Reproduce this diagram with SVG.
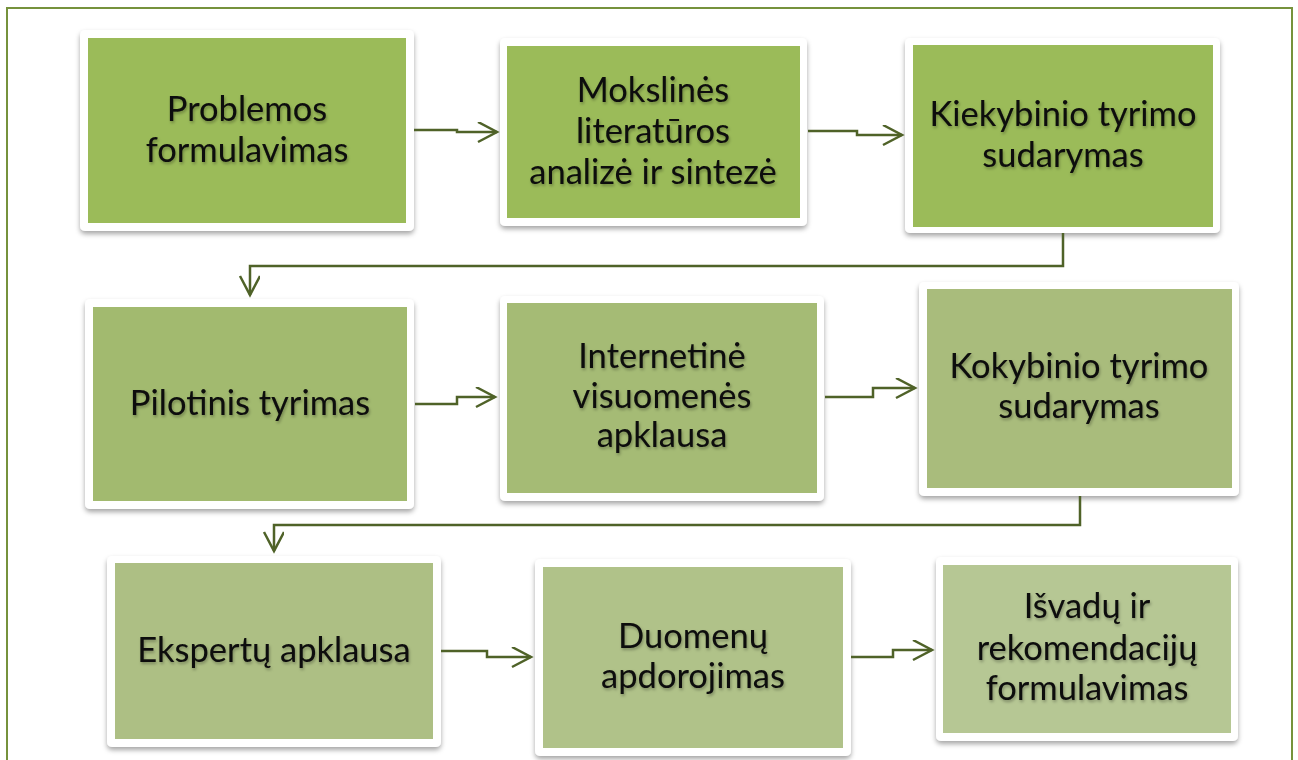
<svg xmlns="http://www.w3.org/2000/svg" width="1298" height="760" viewBox="0 0 1298 760">
<style>
.card{fill:#ffffff;filter:url(#sh)}
.lbl{font-family:Lato,"Liberation Sans",sans-serif;font-size:34.5px;fill:#0a0a0a;text-anchor:middle;filter:url(#tsh)}
.conn{fill:none;stroke:#4F6228;stroke-width:2.5;stroke-linejoin:miter}
</style>
<defs>
<filter id="sh" x="-10%" y="-10%" width="120%" height="125%">
<feDropShadow dx="0" dy="3" stdDeviation="2.5" flood-color="#000" flood-opacity="0.35"/>
</filter>
<filter id="tsh" x="-10%" y="-20%" width="120%" height="150%">
<feDropShadow dx="1" dy="2" stdDeviation="1.5" flood-color="#000" flood-opacity="0.3"/>
</filter>
<marker id="ah" markerWidth="24" markerHeight="24" refX="20" refY="10" orient="auto" markerUnits="userSpaceOnUse">
<path d="M1,0 L20,10 L1,20" fill="none" stroke="#4F6228" stroke-width="2.5"/>
</marker>
</defs>
<rect x="7" y="8" width="1285" height="770" fill="#ffffff" stroke="#76923C" stroke-width="2"/>

<g id="n1">
<rect class="card" x="80" y="30" width="334" height="201" rx="5"/>
<rect x="88" y="38" width="318" height="185" fill="#9BBB59"/>
<text class="lbl" x="247" y="121">Problemos</text>
<text class="lbl" x="247" y="162">formulavimas</text>
</g>
<g id="n2">
<rect class="card" x="500" y="38" width="307" height="188" rx="5"/>
<rect x="507" y="46" width="293" height="172" fill="#9BBB59"/>
<text class="lbl" x="653" y="102">Mokslinės</text>
<text class="lbl" x="653" y="143">literatūros</text>
<text class="lbl" x="653" y="184">analizė ir sintezė</text>
</g>
<g id="n3">
<rect class="card" x="905" y="38" width="315" height="195" rx="5"/>
<rect x="913" y="45" width="300" height="182" fill="#9BBB59"/>
<text class="lbl" x="1063" y="126">Kiekybinio tyrimo</text>
<text class="lbl" x="1063" y="167">sudarymas</text>
</g>
<g id="n4">
<rect class="card" x="85" y="299" width="329" height="210" rx="5"/>
<rect x="93" y="307" width="314" height="194" fill="#A2BA6F"/>
<text class="lbl" x="250" y="415">Pilotinis tyrimas</text>
</g>
<g id="n5">
<rect class="card" x="500" y="296" width="324" height="205" rx="5"/>
<rect x="507" y="303" width="310" height="190" fill="#A5BB75"/>
<text class="lbl" x="662" y="368">Internetinė</text>
<text class="lbl" x="662" y="408">visuomenės</text>
<text class="lbl" x="662" y="447">apklausa</text>
</g>
<g id="n6">
<rect class="card" x="919" y="282" width="320" height="214" rx="5"/>
<rect x="927" y="289" width="305" height="199" fill="#A9BC7C"/>
<text class="lbl" x="1079" y="378">Kokybinio tyrimo</text>
<text class="lbl" x="1079" y="418">sudarymas</text>
</g>
<g id="n7">
<rect class="card" x="107" y="556" width="334" height="191" rx="5"/>
<rect x="115" y="563" width="318" height="176" fill="#ADBF84"/>
<text class="lbl" x="274" y="662">Ekspertų apklausa</text>
</g>
<g id="n8">
<rect class="card" x="535" y="559" width="316" height="197" rx="5"/>
<rect x="543" y="567" width="300" height="181" fill="#B0C289"/>
<text class="lbl" x="693" y="648">Duomenų</text>
<text class="lbl" x="693" y="688">apdorojimas</text>
</g>
<g id="n9">
<rect class="card" x="936" y="557" width="302" height="184" rx="5"/>
<rect x="943" y="565" width="288" height="168" fill="#B6C794"/>
<text class="lbl" x="1087" y="618">Išvadų ir</text>
<text class="lbl" x="1087" y="660">rekomendacijų</text>
<text class="lbl" x="1087" y="700">formulavimas</text>
</g>

<g id="connectors">
<path class="conn" marker-end="url(#ah)" d="M414,130 H457 V132 H497"/>
<path class="conn" marker-end="url(#ah)" d="M808,131 H857 V135 H902"/>
<path class="conn" marker-end="url(#ah)" d="M1063,233 V266 H250 V295"/>
<path class="conn" marker-end="url(#ah)" d="M415,404 H457 V397 H495"/>
<path class="conn" marker-end="url(#ah)" d="M825,397 H873 V388 H915"/>
<path class="conn" marker-end="url(#ah)" d="M1080,496 V525 H274 V551"/>
<path class="conn" marker-end="url(#ah)" d="M441,651 H487 V657 H531"/>
<path class="conn" marker-end="url(#ah)" d="M851,657 H893 V650 H932"/>
</g>
</svg>
